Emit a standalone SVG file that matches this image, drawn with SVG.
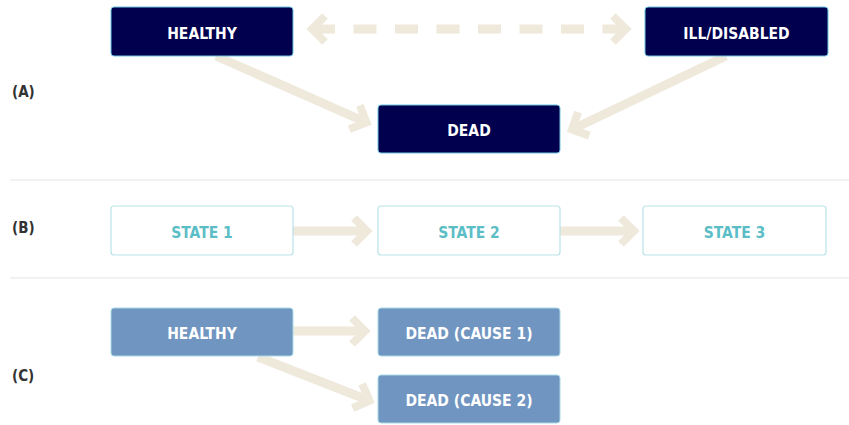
<svg xmlns="http://www.w3.org/2000/svg" width="849" height="425" viewBox="0 0 849 425">
<style>
.lbl{font-family:"DejaVu Sans Condensed","DejaVu Sans",sans-serif;font-weight:bold;font-size:15px;fill:#333333}
.t{font-family:"DejaVu Sans Condensed","DejaVu Sans",sans-serif;font-weight:bold;font-size:15.5px;text-anchor:middle}
.dark rect{fill:#00004f;stroke:#6ec6e0;stroke-width:1}
.dark text{fill:#ffffff}
.out rect{fill:#ffffff;stroke:#b8e3e8;stroke-width:1.2}
.out text{fill:#5bbec6}
.mid rect{fill:#7195c1;stroke:#a9dbe6;stroke-width:1}
.mid text{fill:#ffffff}
.sep{stroke:#e6e6e6;stroke-width:1.2}
.arr{stroke:#efe9dc;stroke-width:9;fill:none}
.dash{stroke-dasharray:23 18.5}
</style>
<defs>
<marker id="chev" markerUnits="userSpaceOnUse" markerWidth="40" markerHeight="40" refX="0" refY="0" viewBox="-20 -20 40 40" orient="auto-start-reverse" overflow="visible">
<path d="M-13,-13 L0,0 L-13,13" fill="none" stroke="#efe9dc" stroke-width="8" stroke-linejoin="miter"/>
</marker>
</defs>
<line class="sep" x1="10" y1="180" x2="849" y2="180"/>
<line class="sep" x1="10" y1="278" x2="849" y2="278"/>
<text class="lbl" x="12" y="97">(A)</text>
<text class="lbl" x="12" y="233">(B)</text>
<text class="lbl" x="12" y="381">(C)</text>
<g id="connectors">
<line class="arr dash" x1="312" y1="29" x2="626" y2="29" marker-start="url(#chev)" marker-end="url(#chev)"/>
<line class="arr" x1="216" y1="56" x2="366.5" y2="122.5" marker-end="url(#chev)"/>
<line class="arr" x1="726" y1="56" x2="572" y2="129.5" marker-end="url(#chev)"/>
<line class="arr" x1="293" y1="231" x2="367" y2="231" marker-end="url(#chev)"/>
<line class="arr" x1="560" y1="231" x2="634" y2="231" marker-end="url(#chev)"/>
<line class="arr" x1="293" y1="331" x2="365" y2="331" marker-end="url(#chev)"/>
<line class="arr" x1="258" y1="357" x2="369.5" y2="400.8" marker-end="url(#chev)"/>
</g>
<g id="a-healthy" class="dark"><rect x="111" y="7" width="182" height="49" rx="3"/><text class="t" x="202" y="39">HEALTHY</text></g>
<g id="a-ill" class="dark"><rect x="645" y="7" width="183" height="49" rx="3"/><text class="t" x="736.5" y="39">ILL/DISABLED</text></g>
<g id="a-dead" class="dark"><rect x="378" y="105" width="182" height="48" rx="3"/><text class="t" x="469" y="136">DEAD</text></g>
<g id="b-state1" class="out"><rect x="111" y="206" width="182" height="49" rx="3"/><text class="t" x="202" y="238">STATE 1</text></g>
<g id="b-state2" class="out"><rect x="378" y="206" width="182" height="49" rx="3"/><text class="t" x="469" y="238">STATE 2</text></g>
<g id="b-state3" class="out"><rect x="643" y="206" width="183" height="49" rx="3"/><text class="t" x="734.5" y="238">STATE 3</text></g>
<g id="c-healthy" class="mid"><rect x="111" y="308" width="182" height="48" rx="3"/><text class="t" x="202" y="339">HEALTHY</text></g>
<g id="c-dead1" class="mid"><rect x="378" y="308" width="182" height="48" rx="3"/><text class="t" x="469" y="339">DEAD (CAUSE 1)</text></g>
<g id="c-dead2" class="mid"><rect x="378" y="375" width="182" height="48" rx="3"/><text class="t" x="469" y="406">DEAD (CAUSE 2)</text></g>
</svg>
